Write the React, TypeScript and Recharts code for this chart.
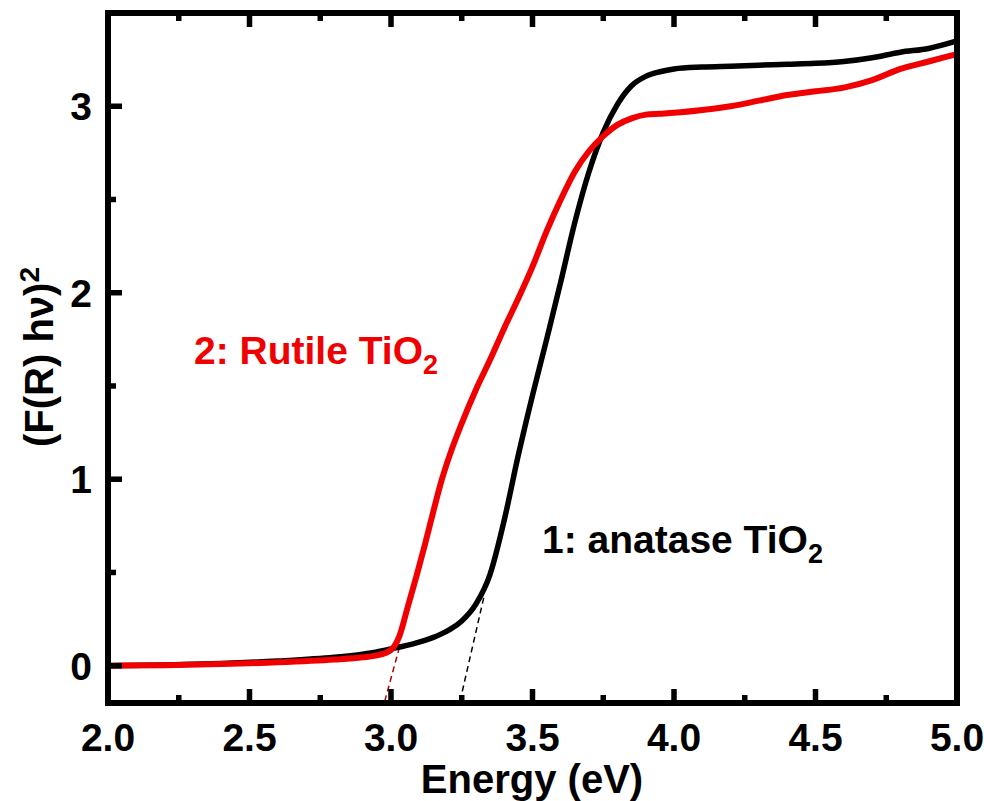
import { LineChart, Line, XAxis, YAxis, ReferenceLine } from 'recharts'

// energy grid (eV) shared by both spectra
const ENERGY = [
  2.0, 2.2, 2.4, 2.6, 2.8, 2.9, 2.95, 3.0, 3.03, 3.06, 3.09, 3.12, 3.15, 3.18, 3.21,
  3.25, 3.3, 3.35, 3.4, 3.45, 3.5, 3.55, 3.6, 3.65, 3.7, 3.75, 3.8, 3.85, 3.9, 3.95,
  4.0, 4.1, 4.2, 4.3, 4.4, 4.5, 4.6, 4.7, 4.8, 4.9, 5.0,
]

// 1: anatase TiO2
const ANATASE = [
  0.0, 0.004, 0.012, 0.025, 0.045, 0.062, 0.074, 0.09, 0.1, 0.11, 0.122, 0.136, 0.152, 0.172, 0.196,
  0.24, 0.33, 0.49, 0.78, 1.13, 1.45, 1.75, 2.06, 2.38, 2.65, 2.86, 3.01, 3.11, 3.16, 3.185,
  3.2, 3.21, 3.215, 3.22, 3.225, 3.23, 3.24, 3.26, 3.29, 3.31, 3.35,
]

// 2: rutile TiO2
const RUTILE = [
  0.0, 0.003, 0.009, 0.018, 0.033, 0.045, 0.055, 0.085, 0.16, 0.32, 0.48, 0.65, 0.83, 1.0, 1.14,
  1.3, 1.48, 1.64, 1.81, 1.97, 2.14, 2.33, 2.5, 2.65, 2.76, 2.84, 2.9, 2.935, 2.955, 2.96,
  2.965, 2.98, 3.0, 3.03, 3.06, 3.08, 3.1, 3.14, 3.2, 3.24, 3.28,
]

// band-gap extrapolation lines [x, y] end points
const ANATASE_FIT = [[3.244, -0.19], [3.33, 0.38]]
const RUTILE_FIT = [[2.978, -0.19], [3.03, 0.1]]

const X_MAJOR = [2.0, 2.5, 3.0, 3.5, 4.0, 4.5, 5.0]
const X_TICKS = [2.0, 2.25, 2.5, 2.75, 3.0, 3.25, 3.5, 3.75, 4.0, 4.25, 4.5, 4.75, 5.0]
const Y_MAJOR = [0, 1, 2, 3]
const Y_TICKS = [0, 0.5, 1, 1.5, 2, 2.5, 3]

const data = ENERGY.map((e, i) => ({ e, anatase: ANATASE[i], rutile: RUTILE[i] }))

const FONT = 'Arial, "Liberation Sans", sans-serif'
const axisLine = { stroke: '#000', strokeWidth: 6, strokeLinecap: 'square' as const }

const isMajor = (list: number[], v: number) => list.some((m) => Math.abs(m - v) < 1e-6)

// ticks point inward, labels only on bottom / left
// eslint-disable-next-line @typescript-eslint/no-explicit-any
const XTick = ({ x, y, payload, side }: any) => {
  const major = isMajor(X_MAJOR, payload.value)
  const len = major ? 14 : 8
  const dir = side === 'top' ? 1 : -1
  return (
    <g>
      <line x1={x} y1={y} x2={x} y2={y + dir * len} stroke="#000" strokeWidth={5.5} />
      {side === 'bottom' && major && (
        <text x={x} y={y + 48} textAnchor="middle" fontSize={39} fontWeight="bold" fontFamily={FONT} fill="#000">
          {payload.value.toFixed(1)}
        </text>
      )}
    </g>
  )
}

// eslint-disable-next-line @typescript-eslint/no-explicit-any
const YTick = ({ x, y, payload, side }: any) => {
  const major = isMajor(Y_MAJOR, payload.value)
  const len = major ? 14 : 8
  const dir = side === 'left' ? 1 : -1
  return (
    <g>
      <line x1={x} y1={y} x2={x + dir * len} y2={y} stroke="#000" strokeWidth={5.5} />
      {side === 'left' && major && (
        <text x={x - 16} y={y + 14} textAnchor="end" fontSize={39} fontWeight="bold" fontFamily={FONT} fill="#000">
          {payload.value}
        </text>
      )}
    </g>
  )
}

export default function App() {
  return (
    <div style={{ position: 'absolute', left: 0, top: 0, width: 984, height: 801, background: '#fff' }}>
      <LineChart width={984} height={801} data={data} margin={{ top: 12, right: 26, bottom: 0, left: 0 }}>
        <XAxis
          xAxisId="b"
          dataKey="e"
          type="number"
          domain={[2, 5]}
          ticks={X_TICKS}
          height={98}
          tickSize={0}
          tickMargin={0}
          tickLine={false}
          axisLine={axisLine}
          tick={<XTick side="bottom" />}
          interval={0}
        />
        <XAxis
          xAxisId="t"
          orientation="top"
          dataKey="e"
          type="number"
          domain={[2, 5]}
          ticks={X_TICKS}
          height={1}
          tickSize={0}
          tickMargin={0}
          tickLine={false}
          axisLine={axisLine}
          tick={<XTick side="top" />}
          interval={0}
        />
        <YAxis
          yAxisId="l"
          type="number"
          domain={[-0.2, 3.5]}
          ticks={Y_TICKS}
          width={108}
          tickSize={0}
          tickMargin={0}
          tickLine={false}
          axisLine={axisLine}
          tick={<YTick side="left" />}
          interval={0}
        />
        <YAxis
          yAxisId="r"
          orientation="right"
          type="number"
          domain={[-0.2, 3.5]}
          ticks={Y_TICKS}
          width={1}
          tickSize={0}
          tickMargin={0}
          tickLine={false}
          axisLine={axisLine}
          tick={<YTick side="right" />}
          interval={0}
        />
        <ReferenceLine
          xAxisId="b"
          yAxisId="l"
          segment={ANATASE_FIT.map(([x, y]) => ({ x, y }))}
          stroke="#000"
          strokeWidth={1.5}
          strokeDasharray="6 4"
        />
        <ReferenceLine
          xAxisId="b"
          yAxisId="l"
          segment={RUTILE_FIT.map(([x, y]) => ({ x, y }))}
          stroke="#b00000"
          strokeWidth={1.5}
          strokeDasharray="6 4"
        />
        <Line
          xAxisId="b"
          yAxisId="l"
          type="monotone"
          dataKey="anatase"
          stroke="#000"
          strokeWidth={5.5}
          dot={false}
          isAnimationActive={false}
        />
        <Line
          xAxisId="b"
          yAxisId="l"
          type="monotone"
          dataKey="rutile"
          stroke="#f00000"
          strokeWidth={6}
          dot={false}
          isAnimationActive={false}
        />
      </LineChart>
      <svg
        width={984}
        height={801}
        style={{ position: 'absolute', left: 0, top: 0, pointerEvents: 'none' }}
        fontFamily={FONT}
        fontWeight="bold"
      >
        <text x={194} y={364} fontSize={39} fill="#f00000">
          2: Rutile TiO<tspan fontSize={27} dy={10}>2</tspan>
        </text>
        <text x={542} y={553} fontSize={39} fill="#000">
          1: anatase TiO<tspan fontSize={27} dy={10}>2</tspan>
        </text>
        <text x={532} y={793} fontSize={40} textAnchor="middle" fill="#000">
          Energy (eV)
        </text>
        <text transform="translate(53,357) rotate(-90)" fontSize={40} textAnchor="middle" fill="#000">
          (F(R) hν)<tspan fontSize={28} dy={-14}>2</tspan>
        </text>
      </svg>
    </div>
  )
}
